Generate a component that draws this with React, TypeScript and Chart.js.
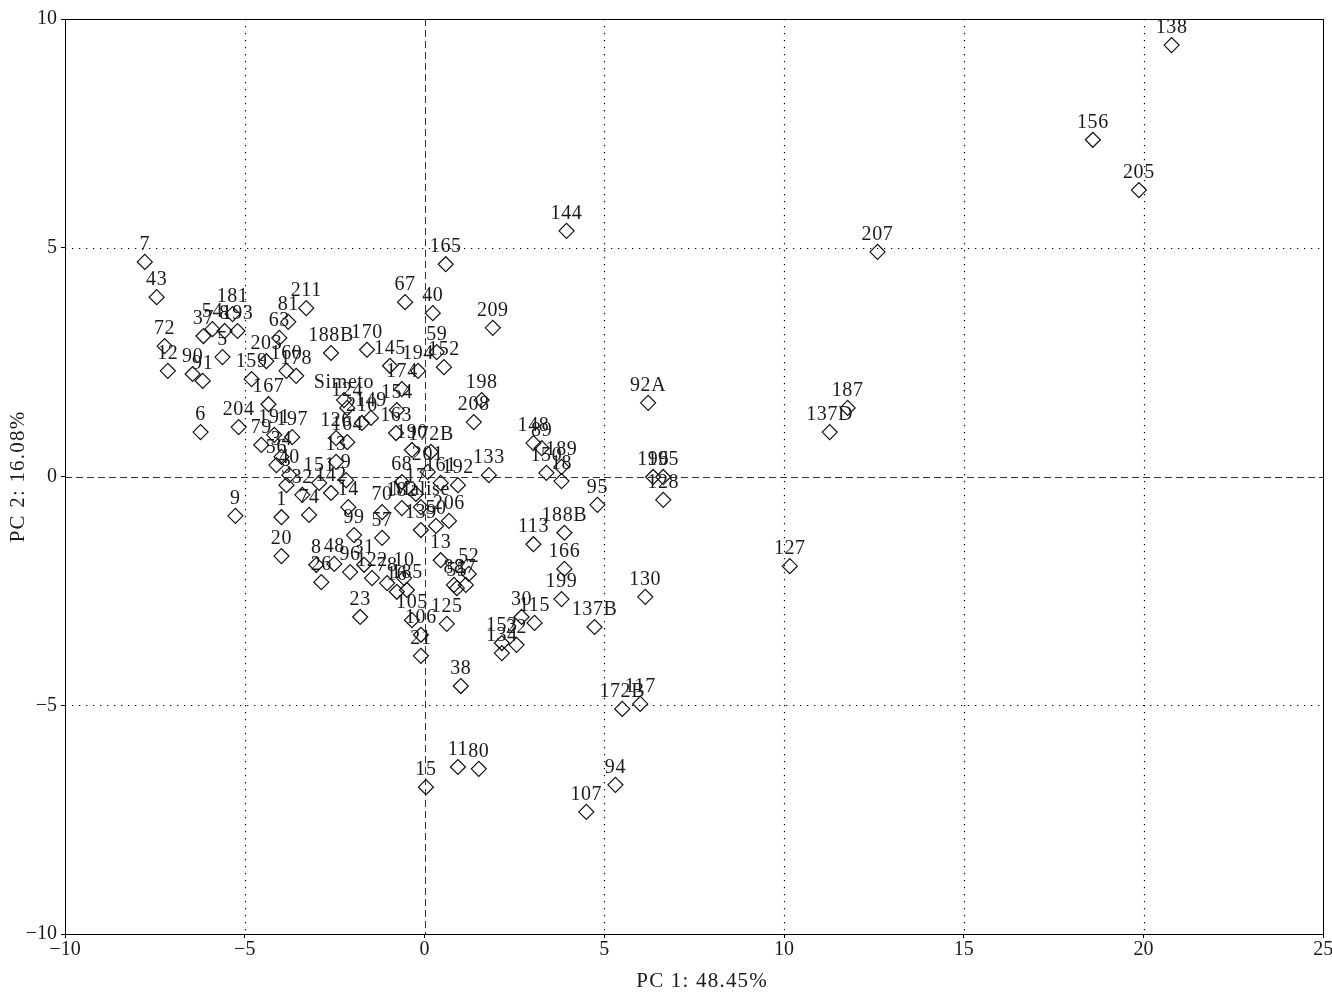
import React, { useEffect, useRef } from "react";
import { Chart, registerables } from "chart.js";

Chart.register(...registerables);

const pointLabels = [
  "138", "156", "205", "207", "144", "165", "187", "137D", "92A", "127",
  "128", "196", "195", "95", "130", "137B", "172B", "117", "94", "107",
  "11", "80", "15", "38", "153", "134", "22", "30", "115", "199",
  "166", "113", "188B", "148", "89", "150", "189", "18", "133", "198",
  "208", "209", "152", "59", "40", "67", "194", "145", "174", "154",
  "163", "190", "172B", "201", "161", "192", "68", "17", "Malise", "182",
  "70", "57", "99", "139", "50", "206", "13", "14", "79", "191",
  "197", "34", "56", "40", "3", "32", "151", "142", "13", "9",
  "74", "1", "126", "164", "Simeto", "124", "210", "149", "7", "43",
  "72", "12", "90", "91", "5", "37", "54", "8", "193", "181",
  "6", "204", "9", "20", "159", "203", "167", "63", "81", "211",
  "160", "178", "188B", "170", "8", "48", "26", "96", "31", "122",
  "78", "10", "16", "185", "23", "105", "106", "21", "125", "52",
  "27", "88", "55",
];

const pc1 = [
  20.78, 18.59, 19.87, 12.6, 3.95, 0.59, 11.77, 11.27, 6.22, 10.16,
  6.64, 6.36, 6.64, 4.81, 6.14, 4.73, 5.5, 6.0, 5.31, 4.5,
  0.93, 1.51, 0.04, 1.01, 2.15, 2.15, 2.56, 2.7, 3.06, 3.81,
  3.89, 3.03, 3.89, 3.03, 3.26, 3.39, 3.81, 3.81, 1.79, 1.59,
  1.37, 1.9, 0.54, 0.34, 0.23, -0.54, -0.18, -0.96, -0.63, -0.77,
  -0.79, -0.35, 0.18, 0.09, 0.45, 0.93, -0.63, -0.24, -0.1, -0.63,
  -1.18, -1.18, -1.96, -0.1, 0.32, 0.68, 0.45, -2.12, -4.54, -4.18,
  -3.68, -3.98, -4.12, -3.76, -3.84, -3.4, -2.93, -2.6, -2.46, -2.18,
  -3.21, -3.98, -2.46, -2.15, -2.24, -2.15, -1.74, -1.49, -7.78, -7.45,
  -7.23, -7.14, -6.45, -6.17, -5.62, -6.15, -5.9, -5.56, -5.2, -5.34,
  -6.23, -5.17, -5.26, -3.98, -4.81, -4.4, -4.34, -4.04, -3.79, -3.29,
  -3.84, -3.57, -2.6, -1.6, -3.01, -2.51, -2.87, -2.07, -1.68, -1.46,
  -1.04, -0.57, -0.77, -0.49, -1.79, -0.35, -0.1, -0.1, 0.62, 1.23,
  1.15, 0.82, 0.9,
];

const pc2 = [
  9.43, 7.36, 6.26, 4.91, 5.37, 4.64, 1.5, 0.97, 1.61, -1.96,
  -0.51, -0.01, -0.01, -0.62, -2.63, -3.29, -5.08, -4.97, -6.74, -7.33,
  -6.35, -6.39, -6.79, -4.58, -3.64, -3.86, -3.68, -3.07, -3.2, -2.68,
  -2.02, -1.48, -1.23, 0.73, 0.62, 0.08, 0.21, -0.1, 0.03, 1.67,
  1.19, 3.25, 2.39, 2.72, 3.57, 3.81, 2.31, 2.42, 1.91, 1.45,
  0.95, 0.58, 0.54, 0.1, -0.14, -0.19, -0.12, -0.38, -0.67, -0.69,
  -0.78, -1.34, -1.28, -1.17, -1.08, -0.97, -1.83, -0.67, 0.69, 0.91,
  0.86, 0.43, 0.25, 0.03, -0.19, -0.4, -0.14, -0.36, 0.32, -0.08,
  -0.84, -0.89, 0.84, 0.75, 1.67, 1.5, 1.17, 1.28, 4.69, 3.92,
  2.85, 2.31, 2.24, 2.09, 2.61, 3.07, 3.22, 3.18, 3.18, 3.55,
  0.97, 1.08, -0.86, -1.74, 2.13, 2.52, 1.58, 3.03, 3.38, 3.68,
  2.31, 2.2, 2.7, 2.77, -1.93, -1.91, -2.31, -2.09, -1.93, -2.22,
  -2.33, -2.22, -2.52, -2.48, -3.07, -3.14, -3.46, -3.92, -3.22, -2.13,
  -2.37, -2.37, -2.44,
];

const xTicks = [-10, -5, 0, 5, 10, 15, 20, 25];
const yTicks = [-10, -5, 0, 5, 10];
const xTitle = "PC 1: 48.45%";
const yTitle = "PC 2: 16.08%";

const FONT_FAMILY = '"Liberation Serif", "Times New Roman", serif';
const TEXT_COLOR = "#1a1a1a";

const fmt = (v: number) => (v < 0 ? "\u2212" + Math.abs(v) : String(v));

const gridPlugin = {
  id: "pcaGrid",
  beforeDatasetsDraw(chart: any) {
    const { ctx, chartArea, scales } = chart;
    const { left, right, top, bottom } = chartArea;
    const xs = scales.x;
    const ys = scales.y;
    ctx.save();
    ctx.lineWidth = 1.2;
    ctx.strokeStyle = "#000";
    ctx.setLineDash([1.3, 5.7]);
    xTicks.forEach((v) => {
      if (v === 0 || v === xTicks[0] || v === xTicks[xTicks.length - 1]) return;
      const px = Math.round(xs.getPixelForValue(v)) + 0.5;
      ctx.beginPath();
      ctx.moveTo(px, top);
      ctx.lineTo(px, bottom);
      ctx.stroke();
    });
    yTicks.forEach((v) => {
      if (v === 0 || v === yTicks[0] || v === yTicks[yTicks.length - 1]) return;
      const py = Math.round(ys.getPixelForValue(v)) + 0.5;
      ctx.beginPath();
      ctx.moveTo(left, py);
      ctx.lineTo(right, py);
      ctx.stroke();
    });
    ctx.lineWidth = 1;
    ctx.strokeStyle = "#333";
    ctx.setLineDash([7, 4]);
    const x0 = Math.round(xs.getPixelForValue(0)) + 0.5;
    ctx.beginPath();
    ctx.moveTo(x0, top);
    ctx.lineTo(x0, bottom);
    ctx.stroke();
    const y0 = Math.round(ys.getPixelForValue(0)) + 0.5;
    ctx.beginPath();
    ctx.moveTo(left, y0);
    ctx.lineTo(right, y0);
    ctx.stroke();
    ctx.setLineDash([]);
    ctx.strokeStyle = "#000";
    ctx.strokeRect(Math.round(left) + 0.5, Math.round(top) + 0.5, Math.round(right - left), Math.round(bottom - top));
    ctx.restore();
  },
};

const labelPlugin = {
  id: "pointLabelsText",
  afterDatasetsDraw(chart: any) {
    const { ctx } = chart;
    const meta = chart.getDatasetMeta(0);
    ctx.save();
    ctx.font = `20px ${FONT_FAMILY}`;
    (ctx as any).letterSpacing = "0.6px";
    ctx.fillStyle = TEXT_COLOR;
    ctx.textAlign = "center";
    ctx.textBaseline = "alphabetic";
    meta.data.forEach((el: any, i: number) => {
      ctx.fillText(pointLabels[i], el.x, el.y - 12);
    });
    ctx.restore();
  },
};

const titlePlugin = {
  id: "axisTitles",
  afterDraw(chart: any) {
    const { ctx, chartArea } = chart;
    ctx.save();
    ctx.font = `21px ${FONT_FAMILY}`;
    (ctx as any).letterSpacing = "1.2px";
    ctx.fillStyle = TEXT_COLOR;
    ctx.textAlign = "center";
    ctx.textBaseline = "middle";
    const cx = (chartArea.left + chartArea.right) / 2 + 8;
    ctx.fillText(xTitle, cx, 981);
    const cy = (chartArea.top + chartArea.bottom) / 2;
    ctx.translate(18, cy);
    ctx.rotate(-Math.PI / 2);
    ctx.fillText(yTitle, 0, 0);
    ctx.restore();
  },
};

export default function App() {
  const canvasRef = useRef<HTMLCanvasElement | null>(null);

  useEffect(() => {
    document.body.style.margin = "0";
    const canvas = canvasRef.current;
    if (!canvas) return;
    const points = pc1.map((x, i) => ({ x, y: pc2[i] }));
    const tickFont = { family: FONT_FAMILY, size: 20 };
    const chart = new Chart(canvas, {
      type: "scatter",
      data: {
        datasets: [
          {
            data: points,
            pointStyle: "rectRot",
            pointRadius: 7.5,
            pointHoverRadius: 7.5,
            pointBorderWidth: 1.2,
            pointBorderColor: "#111",
            pointBackgroundColor: "rgba(0,0,0,0)",
            clip: false as any,
          },
        ],
      },
      options: {
        animation: false,
        responsive: false,
        devicePixelRatio: 1,
        events: [],
        layout: { padding: { top: 19, right: 5, left: 0, bottom: 0 } },
        plugins: {
          legend: { display: false },
          tooltip: { enabled: false },
        },
        scales: {
          x: {
            type: "linear",
            min: -10,
            max: 25,
            afterBuildTicks: (s: any) => {
              s.ticks = xTicks.map((v) => ({ value: v }));
            },
            afterFit: (s: any) => {
              s.height = 58;
              s.paddingLeft = 0;
              s.paddingRight = 0;
            },
            ticks: {
              font: tickFont,
              color: TEXT_COLOR,
              padding: 0,
              maxRotation: 0,
              autoSkip: false,
              callback: (v: any) => fmt(Number(v)),
            },
            grid: {
              drawOnChartArea: false,
              drawTicks: true,
              tickLength: 4,
              color: "#000",
            },
            border: { display: true, color: "#000" },
            title: { display: false },
          },
          y: {
            type: "linear",
            min: -10,
            max: 10,
            afterBuildTicks: (s: any) => {
              s.ticks = yTicks.map((v) => ({ value: v }));
            },
            afterFit: (s: any) => {
              s.width = 65;
              s.paddingTop = 0;
              s.paddingBottom = 0;
            },
            ticks: {
              font: tickFont,
              color: TEXT_COLOR,
              padding: 4,
              autoSkip: false,
              callback: (v: any) => fmt(Number(v)),
            },
            grid: {
              drawOnChartArea: false,
              drawTicks: true,
              tickLength: 4,
              color: "#000",
            },
            border: { display: true, color: "#000" },
            title: { display: false },
          },
        },
      },
      plugins: [gridPlugin, labelPlugin, titlePlugin],
    });
    return () => chart.destroy();
  }, []);

  return (
    <div style={{ width: 1332, height: 992, position: "relative" }}>
      <canvas ref={canvasRef} width={1332} height={992} style={{ display: "block", width: 1332, height: 992 }} />
    </div>
  );
}
